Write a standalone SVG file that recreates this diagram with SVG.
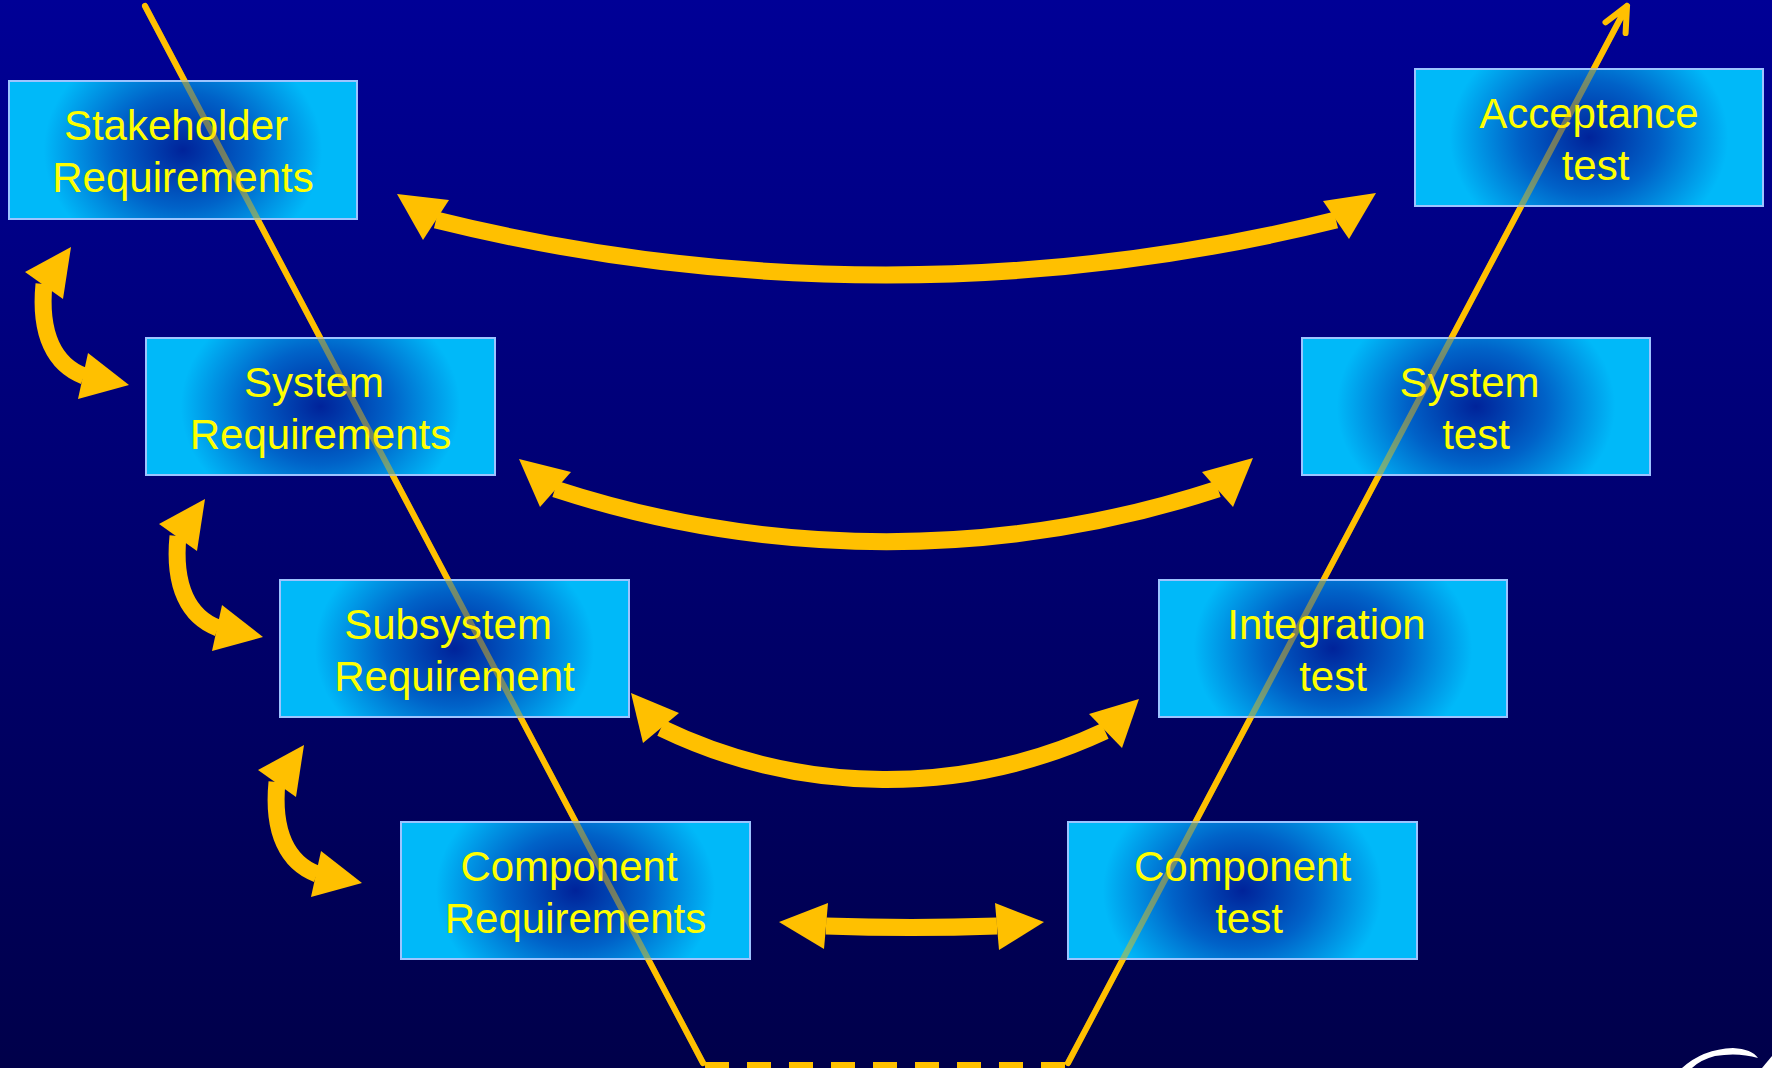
<svg xmlns="http://www.w3.org/2000/svg" xmlns:xlink="http://www.w3.org/1999/xlink" width="1772" height="1068" viewBox="0 0 1772 1068">
<defs>
<linearGradient id="bg" x1="0" y1="0" x2="0" y2="1">
<stop offset="0" stop-color="#000096"/>
<stop offset="1" stop-color="#00004a"/>
</linearGradient>
<radialGradient id="boxfill" cx="0.5" cy="0.5" r="0.4" gradientTransform="translate(0.5 0.5) scale(1 2.1) translate(-0.5 -0.5)">
<stop offset="0" stop-color="#00239a"/>
<stop offset="0.5" stop-color="#0062c8"/>
<stop offset="1" stop-color="#00b9f9"/>
</radialGradient>
<g id="smallArrow">
<path class="shaft" d="M44,284 C39,335 55,365 84,376"/>
<polygon class="head" points="71,247 25,272 63,299"/>
<polygon class="head" points="129,385 88,353 78,399"/>
</g>
</defs>
<style>
.box{fill:url(#boxfill);stroke:#9cc4ff;stroke-width:2}
.lbl{font-family:"Liberation Sans",Arial,sans-serif;font-size:42px;fill:#ffff00;text-anchor:middle}
.head{fill:#ffc000}
.shaft{fill:none;stroke:#ffc000;stroke-width:17}
.vline{fill:none;stroke:#ffc000;stroke-width:6;stroke-linejoin:round;stroke-linecap:round}
</style>
<rect width="1772" height="1068" fill="url(#bg)"/>

<g id="vmodel-line">
<path class="vline" d="M145,6 L703,1063"/>
<path class="vline" d="M1068,1063 L1627,6 M1605.5,22.3 L1627,6 L1625.6,33"/>
<path d="M705,1066 L1066,1066" fill="none" stroke="#ffc000" stroke-width="8" stroke-dasharray="24 18"/>
</g>

<g id="connectors">
<path class="shaft" d="M436,220 A1868,1868 0 0 0 1336,220"/>
<polygon class="head" points="397,194 449,200 423,240"/>
<polygon class="head" points="1376,193 1323,201 1349,239"/>
<path class="shaft" d="M555,489 A1070,1070 0 0 0 1218,489"/>
<polygon class="head" points="519,459 571,472 540,507"/>
<polygon class="head" points="1253,458 1202,472 1233,507"/>
<path class="shaft" d="M661,728 A518,518 0 0 0 1105,731"/>
<polygon class="head" points="631,693 679,713 643,743"/>
<polygon class="head" points="1139,699 1089,714 1122,748"/>
<path class="shaft" d="M826,926 Q911,929 997,926"/>
<polygon class="head" points="779,922 828,903 824,949"/>
<polygon class="head" points="1044,922 995,903 999,950"/>
<use xlink:href="#smallArrow"/>
<use xlink:href="#smallArrow" x="134" y="252"/>
<use xlink:href="#smallArrow" x="233" y="498"/>
</g>

<g id="stakeholder-requirements">
<rect class="box" x="9" y="81" width="348" height="138"/>
<text class="lbl" x="176" y="140">Stakeholder</text>
<text class="lbl" x="183" y="192">Requirements</text>
</g>
<g id="system-requirements">
<rect class="box" x="146" y="338" width="349" height="137"/>
<text class="lbl" x="314" y="396.5">System</text>
<text class="lbl" x="320.5" y="448.5">Requirements</text>
</g>
<g id="subsystem-requirement">
<rect class="box" x="280" y="580" width="349" height="137"/>
<text class="lbl" x="448" y="638.5">Subsystem</text>
<text class="lbl" x="454.5" y="690.5">Requirement</text>
</g>
<g id="component-requirements">
<rect class="box" x="401" y="822" width="349" height="137"/>
<text class="lbl" x="569" y="880.5">Component</text>
<text class="lbl" x="575.5" y="932.5">Requirements</text>
</g>
<g id="acceptance-test">
<rect class="box" x="1415" y="69" width="348" height="137"/>
<text class="lbl" x="1589" y="127.5">Acceptance</text>
<text class="lbl" x="1595.5" y="179.5">test</text>
</g>
<g id="system-test">
<rect class="box" x="1302" y="338" width="348" height="137"/>
<text class="lbl" x="1469.5" y="396.5">System</text>
<text class="lbl" x="1476" y="448.5">test</text>
</g>
<g id="integration-test">
<rect class="box" x="1159" y="580" width="348" height="137"/>
<text class="lbl" x="1326.5" y="638.5">Integration</text>
<text class="lbl" x="1333" y="690.5">test</text>
</g>
<g id="component-test">
<rect class="box" x="1068" y="822" width="349" height="137"/>
<text class="lbl" x="1242.5" y="880.5">Component</text>
<text class="lbl" x="1249" y="932.5">test</text>
</g>

<g id="vmodel-line-overlay" opacity="0.45">
<path class="vline" d="M145,6 L703,1063"/>
<path class="vline" d="M1068,1063 L1627,6"/>
</g>

<path d="M1682,1068 Q1703,1049 1733,1048 Q1752,1049 1758,1058 Q1738,1052 1715,1056 Q1700,1060 1692,1068 Z" fill="#ffffff"/>
<path d="M1762,1068 L1772,1056 L1772,1068 Z" fill="#ffffff"/>
</svg>
